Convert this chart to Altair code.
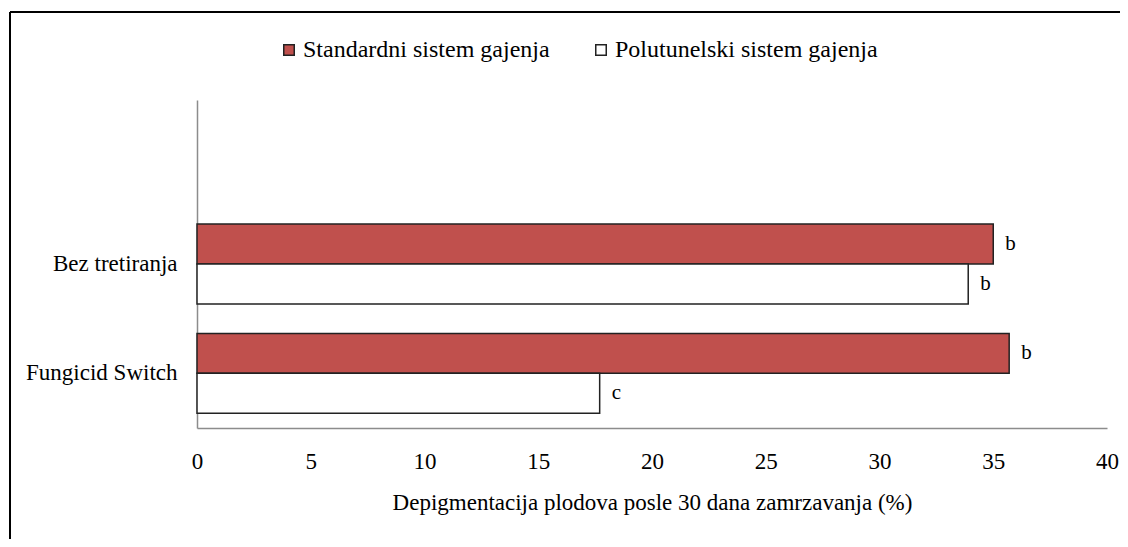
import altair as alt
import pandas as pd

categories = ["Bez tretiranja", "Fungicid Switch"]
series = ["Standardni sistem gajenja", "Polutunelski sistem gajenja"]
standard_values = [35.0, 35.7]
polutunel_values = [33.9, 17.7]
standard_letters = ["b", "b"]
polutunel_letters = ["b", "c"]
colors = ["#C0504D", "#FFFFFF"]

rows = []
for i, c in enumerate(categories):
    rows.append({"cat": c, "series": series[0], "value": standard_values[i], "letter": standard_letters[i]})
    rows.append({"cat": c, "series": series[1], "value": polutunel_values[i], "letter": polutunel_letters[i]})
df = pd.DataFrame(rows)

FONT = "Liberation Serif"
y_domain = [" "] + categories

y_enc = alt.Y("cat:N", scale=alt.Scale(domain=y_domain, paddingInner=0.27, paddingOuter=0.135),
              axis=alt.Axis(title=None, ticks=False, labelPadding=20, labelFontSize=23,
                            labelFont=FONT, labelColor="black", domainColor="#8c8c8c", domainWidth=1.5))
yoff_enc = alt.YOffset("series:N", scale=alt.Scale(domain=series, paddingInner=0, paddingOuter=0))
x_enc = alt.X("value:Q", scale=alt.Scale(domain=[0, 40], nice=False),
              axis=alt.Axis(values=[0, 5, 10, 15, 20, 25, 30, 35, 40], grid=False, ticks=False,
                            labelFlush=False,
                            labelPadding=22, labelFontSize=23, labelFont=FONT, labelColor="black",
                            domainColor="#8c8c8c", domainWidth=1.5,
                            title="Depigmentacija  plodova posle 30 dana zamrzavanja  (%)",
                            titleFont=FONT, titleFontSize=23, titleFontWeight="normal",
                            titleColor="black", titlePadding=18))

bars = alt.Chart(df).mark_bar(stroke="#222222", strokeWidth=1.5).encode(
    x=x_enc,
    y=y_enc,
    yOffset=yoff_enc,
    fill=alt.Fill("series:N", scale=alt.Scale(domain=series, range=colors),
                  legend=alt.Legend(title=None, orient="none", direction="horizontal",
                                    legendX=80, legendY=-62, labelFont=FONT, labelFontSize=24,
                                    labelColor="black", symbolType="square", symbolSize=110,
                                    symbolStrokeColor="#222222", symbolStrokeWidth=1.5,
                                    columnPadding=39, labelOffset=2, labelLimit=400)),
)

labels = alt.Chart(df).mark_text(align="left", baseline="middle", dx=12, font=FONT,
                                 fontSize=21, color="black").encode(
    x="value:Q",
    y=alt.Y("cat:N"),
    yOffset=alt.YOffset("series:N"),
    text="letter:N",
)

frame_df = pd.DataFrame({"k": [0]})
frame_top = alt.Chart(frame_df).mark_rule(color="black", strokeWidth=2).encode(
    x=alt.value(-187), x2=alt.value(960), y=alt.value(-88))
frame_left = alt.Chart(frame_df).mark_rule(color="black", strokeWidth=2).encode(
    x=alt.value(-187), y=alt.value(-88), y2=alt.value(460))

chart = alt.layer(bars, labels, frame_top, frame_left).properties(
    width=910, height=328,
    autosize=alt.AutoSizeParams(type="none"),
    padding={"left": 189, "top": 92, "right": 13, "bottom": 111},
).configure(background="white").configure_view(stroke=None, strokeWidth=0)

chart.save("out.html", embed_options={"renderer": "svg", "actions": False})
